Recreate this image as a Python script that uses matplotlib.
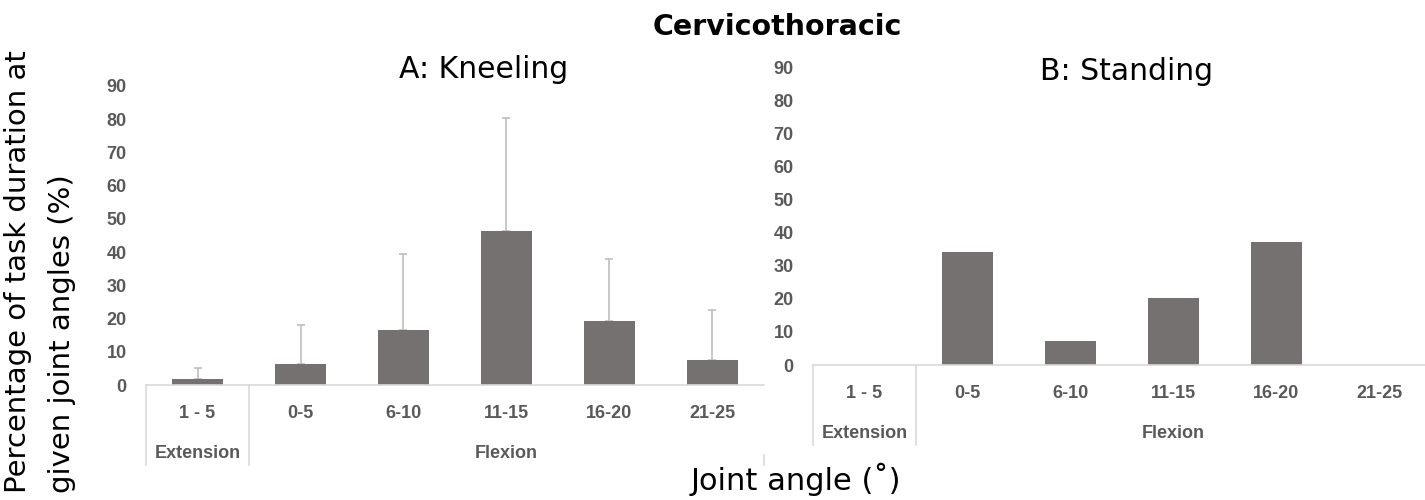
import matplotlib
matplotlib.use('Agg')
import matplotlib.pyplot as plt

categories = ['1 - 5', '0-5', '6-10', '11-15', '16-20', '21-25']
groups = [('Extension', 0, 0), ('Flexion', 1, 5)]

kneeling_mean = [1.8, 6.3, 16.7, 46.4, 19.3, 7.4]
kneeling_sd = [3.4, 11.9, 22.6, 33.9, 18.5, 15.1]
standing_mean = [0, 34.2, 7.2, 20.3, 37.2, 0]

y_ticks = [0, 10, 20, 30, 40, 50, 60, 70, 80, 90]

BAR = '#767171'
ERR = '#BFBFBF'
AXIS = '#D9D9D9'
TICK = '#595959'
TICK_FONT = ['Liberation Sans', 'DejaVu Sans']
MAIN_FONT = ['DejaVu Sans']

W, H = 1425, 500
fig = plt.figure(figsize=(W / 100, H / 100), dpi=100)


def px_axes(x0, x1, y_zero, y_top):
    return fig.add_axes([x0 / W, 1 - y_zero / H, (x1 - x0) / W, (y_zero - y_top) / H])


def style_panel(ax, means, sd=None, right_edge_from=0):
    x = list(range(len(categories)))
    ax.bar(x, means, width=0.5, color=BAR, zorder=2)
    if sd is not None:
        ax.errorbar(x, means, yerr=[[0] * len(sd), sd], fmt='none',
                    ecolor=ERR, elinewidth=1.2, capsize=3, capthick=1.2, zorder=1)
    ax.set_xlim(-0.5, len(categories) - 0.5)
    ax.set_ylim(0, 90)
    ax.set_yticks(y_ticks)
    ax.set_yticklabels([str(t) for t in y_ticks], family=TICK_FONT,
                       fontsize=13, fontweight='bold', color=TICK)
    ax.tick_params(axis='y', length=0, pad=14)
    ax.set_xticks([])
    for s in ['left', 'right', 'top']:
        ax.spines[s].set_visible(False)
    ax.spines['bottom'].set_color(AXIS)
    ax.spines['bottom'].set_linewidth(1.2)
    ax.patch.set_alpha(0)

    tr = ax.get_xaxis_transform()
    h_px = ax.get_position().height * H
    row1 = -28 / h_px
    row2 = -68 / h_px
    bottom = -80 / h_px
    for i, lab in enumerate(categories):
        ax.text(i, row1, lab, transform=tr, ha='center', va='center',
                family=TICK_FONT, fontsize=13, fontweight='bold', color=TICK)
    for name, a, b in groups:
        ax.text((a + b) / 2, row2, name, transform=tr, ha='center', va='center',
                family=TICK_FONT, fontsize=13, fontweight='bold', color=TICK)
    for xs in [-0.5, 0.5]:
        ax.plot([xs, xs], [0, bottom], transform=tr, color=AXIS, lw=1.2, clip_on=False)
    xe = len(categories) - 0.5
    ax.plot([xe, xe], [-right_edge_from / h_px, bottom], transform=tr,
            color=AXIS, lw=1.2, clip_on=False)


ax1 = px_axes(146, 764, 385, 86)
# right edge partly hidden behind panel B in the original
style_panel(ax1, kneeling_mean, kneeling_sd, right_edge_from=70)

ax2 = px_axes(813, 1431, 365, 67)
style_panel(ax2, standing_mean)

fig.text(777 / W, 1 - 27 / H, 'Cervicothoracic', ha='center', va='center',
         family=MAIN_FONT, fontsize=20.5, fontweight='bold')
fig.text(484 / W, 1 - 70 / H, 'A: Kneeling', ha='center', va='center',
         family=MAIN_FONT, fontsize=21.5)
fig.text(1127 / W, 1 - 71 / H, 'B: Standing', ha='center', va='center',
         family=MAIN_FONT, fontsize=21.5)
fig.text(796 / W, 1 - 479 / H, 'Joint angle (˚)', ha='center', va='center',
         family=MAIN_FONT, fontsize=22)
fig.text(4 / W, 1 - 493 / H, 'Percentage of task duration at\ngiven joint angles (%)',
         rotation=90, ha='left', va='bottom', multialignment='left',
         family=MAIN_FONT, fontsize=21, linespacing=1.75)

fig.savefig('out.png', dpi=100)
